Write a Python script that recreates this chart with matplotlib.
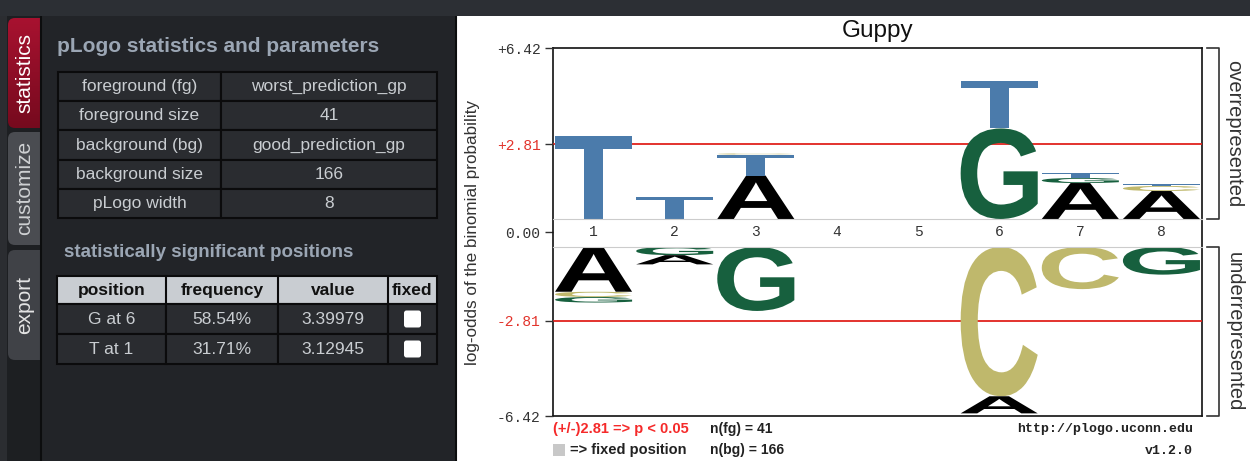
import numpy as np
import matplotlib.pyplot as plt
from matplotlib.patches import Rectangle, FancyBboxPatch, PathPatch
from matplotlib.textpath import TextPath
from matplotlib.font_manager import FontProperties
from matplotlib.transforms import Affine2D
from matplotlib.colors import LinearSegmentedColormap

# pLogo run parameters
param_names = ['foreground (fg)', 'foreground size', 'background (bg)', 'background size', 'pLogo width']
param_values = ['worst_prediction_gp', '41', 'good_prediction_gp', '166', '8']

# statistically significant positions
sig_cols = ['position', 'frequency', 'value', 'fixed']
sig_position = ['G at 6', 'T at 1']
sig_frequency = ['58.54%', '31.71%']
sig_value = [3.39979, 3.12945]

# logo stacks, each listed from the baseline outwards
positions = [1, 2, 3, 4, 5, 6, 7, 8]
over_pos = [1, 2, 3, 3, 3, 6, 6, 7, 7, 7, 8, 8, 8]
over_res = ['T', 'T', 'A', 'T', 'C', 'G', 'T', 'A', 'G', 'T', 'A', 'C', 'T']
over_height = [3.12945, 0.84, 1.63, 0.79, 0.04, 3.39979, 1.80, 1.35, 0.19, 0.17, 1.05, 0.19, 0.06]
under_pos = [1, 1, 1, 2, 2, 3, 6, 6, 7, 8]
under_res = ['A', 'C', 'G', 'G', 'A', 'G', 'C', 'A', 'C', 'G']
under_height = [1.70, 0.20, 0.21, 0.31, 0.35, 2.43, 5.67, 0.65, 1.60, 1.05]

y_max = 6.42
threshold = 2.81
n_fg = 41
n_bg = 166

res_colors = {'A': '#000000', 'C': '#bfb86c', 'G': '#17603e', 'T': '#4b7bab'}
logo_font = FontProperties(family='Liberation Sans', weight='bold')
ui = 'Liberation Sans'
mono = 'Liberation Mono'

W, H = 1250, 461
fig = plt.figure(figsize=(W / 100, H / 100), dpi=100, facecolor='#222428')

# page chrome in pixel coordinates
bg = fig.add_axes([0, 0, 1, 1])
bg.axis('off')

bg.add_patch(Rectangle((0, 0), 7, H, fc='#2b2d31', ec='none'))
bg.add_patch(Rectangle((7, 16), 34, H - 16, fc='#1d1f22', ec='none'))

# side tabs
red = LinearSegmentedColormap.from_list('tab', ['#a81230', '#760a1e'])
tab = FancyBboxPatch((8, 18), 40, 110, boxstyle='round,pad=0,rounding_size=7',
                     fc='none', ec='none')
bg.add_patch(tab)
grad = bg.imshow(np.linspace(0, 1, 100)[:, None], cmap=red, aspect='auto',
                 extent=[8, 48, 128, 18], zorder=1)
grad.set_clip_path(tab)
bg.add_patch(FancyBboxPatch((8, 132), 40, 113, boxstyle='round,pad=0,rounding_size=7',
                            fc='#4a4c51', ec='none'))
bg.add_patch(FancyBboxPatch((8, 250), 40, 110, boxstyle='round,pad=0,rounding_size=7',
                            fc='#404247', ec='none'))
bg.text(25, 73, 'statistics', rotation=90, ha='center', va='center', color='white',
        fontsize=15, family=ui, zorder=3)
bg.text(25, 188, 'customize', rotation=90, ha='center', va='center', color='#cfd1d3',
        fontsize=15, family=ui, zorder=3)
bg.text(25, 305, 'export', rotation=90, ha='center', va='center', color='#e4e4e4',
        fontsize=15, family=ui, zorder=3)

# statistics panel
bg.add_patch(Rectangle((41, 16), 414, H - 16, fc='#222428', ec='none', zorder=2))
bg.plot([40.5, 40.5], [16, H], color='#0c0d0e', lw=1.5, zorder=3)
bg.plot([455.5, 455.5], [16, H], color='#0c0d0e', lw=1.5, zorder=3)
bg.add_patch(Rectangle((457, 16), W - 457, H - 16, fc='white', ec='none', zorder=2))
bg.add_patch(Rectangle((0, 0), W, 16, fc='#2c2f34', ec='none', zorder=3))

head_col = '#9ba6b4'
cell_col = '#2a2c30'
text_col = '#c9cdd1'
line_col = '#0b0b0c'

bg.text(57, 47, 'pLogo statistics and parameters', ha='left', va='center',
        color=head_col, fontsize=15, weight='bold', family=ui, zorder=4)
row_h = 29.2
for i, (k, v) in enumerate(zip(param_names, param_values)):
    y = 72 + i * row_h
    bg.add_patch(Rectangle((58, y), 163, row_h, fc=cell_col, ec=line_col, lw=1.5, zorder=3))
    bg.add_patch(Rectangle((221, y), 216, row_h, fc=cell_col, ec=line_col, lw=1.5, zorder=3))
    bg.text(139.5, y + row_h / 2, k, ha='center', va='center', color=text_col,
            fontsize=12.5, family=ui, zorder=4)
    bg.text(329, y + row_h / 2, v, ha='center', va='center', color=text_col,
            fontsize=12.5, family=ui, zorder=4)

bg.text(64, 252, 'statistically significant positions', ha='left', va='center',
        color=head_col, fontsize=13.5, weight='bold', family=ui, zorder=4)
col_x = [57, 166, 278, 388, 437]
bg.add_patch(Rectangle((57, 276), 380, 28, fc='#c9cdd2', ec=line_col, lw=1.5, zorder=3))
for j, name in enumerate(sig_cols):
    if j > 0:
        bg.plot([col_x[j], col_x[j]], [276, 304], color=line_col, lw=1.5, zorder=3)
    bg.text((col_x[j] + col_x[j + 1]) / 2, 290, name, ha='center', va='center',
            color='#111111', fontsize=12.5, weight='bold', family=ui, zorder=4)
for i, (p, f, v) in enumerate(zip(sig_position, sig_frequency, sig_value)):
    y = 304 + i * 30
    cells = [p, f, f'{v:.5f}', None]
    for j, c in enumerate(cells):
        bg.add_patch(Rectangle((col_x[j], y), col_x[j + 1] - col_x[j], 30,
                               fc=cell_col, ec=line_col, lw=1.5, zorder=3))
        cx = (col_x[j] + col_x[j + 1]) / 2
        if c is None:
            bg.add_patch(FancyBboxPatch((cx - 8.5, y + 6.5), 17, 17,
                                        boxstyle='round,pad=0,rounding_size=2.5',
                                        fc='white', ec='none', zorder=4))
        else:
            bg.text(cx, y + 15, c, ha='center', va='center', color=text_col,
                    fontsize=12.5, family=ui, zorder=4)

# pLogo chart
L, R, T, B = 553, 1202, 48, 416
base_up, base_dn = 219, 247


def fig_box(x0, y0, x1, y1):
    return [x0 / W, 1 - y1 / H, (x1 - x0) / W, (y1 - y0) / H]


frame = fig.add_axes(fig_box(L, T, R, B))
frame.set_facecolor('none')
frame.set_xlim(0.5, 8.5)
frame.set_ylim(0, 1)
frame.set_xticks([])
frame.set_yticks([0.5], ['0.00'])
for s in frame.spines.values():
    s.set_color('#111111')
    s.set_linewidth(1.2)

ax_up = fig.add_axes(fig_box(L, T, R, base_up))
ax_dn = fig.add_axes(fig_box(L, base_dn, R, B))
ax_up.set_ylim(0, y_max)
ax_dn.set_ylim(-y_max, 0)
ax_up.set_yticks([threshold, y_max], [f'+{threshold:.2f}', f'+{y_max:.2f}'])
ax_dn.set_yticks([-threshold, -y_max], [f'-{threshold:.2f}', f'-{y_max:.2f}'])
for ax in (ax_up, ax_dn):
    ax.set_facecolor('none')
    ax.set_xlim(0.5, 8.5)
    ax.set_xticks([])
    for s in ax.spines.values():
        s.set_visible(False)
ax_up.spines['bottom'].set_visible(True)
ax_up.spines['bottom'].set_color('#cccccc')
ax_dn.spines['top'].set_visible(True)
ax_dn.spines['top'].set_color('#cccccc')

for ax in (frame, ax_up, ax_dn):
    ax.tick_params(axis='y', direction='out', length=6, width=1, color='#333333',
                   labelsize=10.5, labelcolor='#333333', pad=3)
    for lab in ax.get_yticklabels():
        lab.set_family(mono)
ax_up.get_yticklabels()[0].set_color('#e2342c')
ax_dn.get_yticklabels()[0].set_color('#e2342c')

ax_up.axhline(threshold, color='#e0221c', lw=1.3, zorder=1)
ax_dn.axhline(-threshold, color='#e0221c', lw=1.3, zorder=1)

for p in positions:
    frame.text(p, 0.5, str(p), ha='center', va='center', fontsize=10.5,
               family=mono, color='#333333')


def draw_letter(ax, res, x, y0, h, w=0.95):
    tp = TextPath((0, 0), res, size=1, prop=logo_font)
    bb = tp.get_extents()
    tr = (Affine2D().translate(-bb.x0, -bb.y0)
          .scale(w / bb.width, h / bb.height)
          .translate(x - w / 2, y0))
    ax.add_patch(PathPatch(tr.transform_path(tp), fc=res_colors[res], ec='none',
                           lw=0, zorder=2))


stack = {p: 0.0 for p in positions}
for p, r, h in zip(over_pos, over_res, over_height):
    draw_letter(ax_up, r, p, stack[p], h)
    stack[p] += h

stack = {p: 0.0 for p in positions}
for p, r, h in zip(under_pos, under_res, under_height):
    draw_letter(ax_dn, r, p, stack[p] - h, h)
    stack[p] -= h

fig.text((L + R) / 2 / W, 1 - 31 / H, 'Guppy', ha='center', va='center',
         fontsize=17.5, family=ui, color='#111111')
fig.text(472 / W, 1 - 232 / H, 'log-odds of the binomial probability', rotation=90,
         ha='center', va='center', fontsize=12.3, family=ui, color='#333333')

# over/under brackets
bg.plot([1207, 1219, 1219, 1207], [T, T, base_up, base_up], color='#333333', lw=1.2, zorder=4)
bg.plot([1207, 1219, 1219, 1207], [base_dn, base_dn, B, B], color='#333333', lw=1.2, zorder=4)
bg.text(1234, (T + base_up) / 2, 'overrepresented', rotation=-90, ha='center', va='center',
        fontsize=14.5, family=ui, color='#333333', zorder=4)
bg.text(1234, (base_dn + B) / 2, 'underrepresented', rotation=-90, ha='center', va='center',
        fontsize=14.5, family=ui, color='#333333', zorder=4)

# footer
bg.text(553, 429, f'(+/-){threshold:.2f} => p < 0.05', ha='left', va='center',
        fontsize=10.5, weight='bold', family=ui, color='#f52a2a', zorder=4)
bg.text(710, 429, f'n(fg) = {n_fg}', ha='left', va='center',
        fontsize=10, weight='bold', family=ui, color='#222222', zorder=4)
bg.add_patch(Rectangle((553, 444), 12, 12, fc='#c8c8c8', ec='none', zorder=4))
bg.text(570, 450, '=> fixed position', ha='left', va='center',
        fontsize=10.5, weight='bold', family=ui, color='#222222', zorder=4)
bg.text(710, 450, f'n(bg) = {n_bg}', ha='left', va='center',
        fontsize=10, weight='bold', family=ui, color='#222222', zorder=4)
bg.text(1193, 429, 'http://plogo.uconn.edu', ha='right', va='center',
        fontsize=9.5, weight='bold', family=mono, color='#222222', zorder=4)
bg.text(1193, 451, 'v1.2.0', ha='right', va='center',
        fontsize=9.5, weight='bold', family=mono, color='#222222', zorder=4)

bg.set_xlim(0, W)
bg.set_ylim(H, 0)

fig.savefig('out.png', dpi=100, facecolor=fig.get_facecolor())
